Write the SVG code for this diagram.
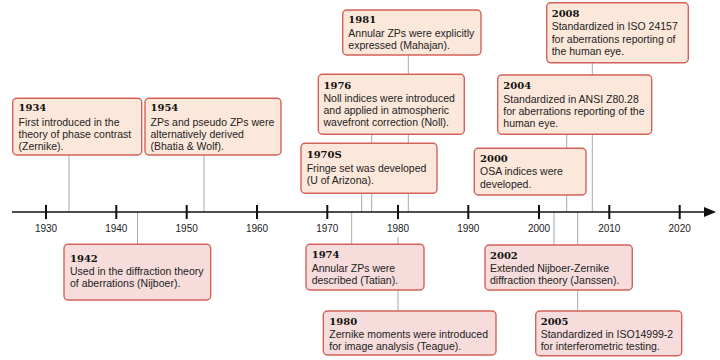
<svg xmlns="http://www.w3.org/2000/svg" width="720" height="360" viewBox="0 0 720 360">
<style>
.up rect{fill:#fce8da;stroke:#d4615a;stroke-width:1.4}
.dn rect{fill:#f6dcdb;stroke:#d4615a;stroke-width:1.4}
.yr{font-family:"DejaVu Serif","Liberation Serif",serif;font-weight:bold;font-size:10px;fill:#111}
.tx{font-family:"Liberation Sans",Arial,sans-serif;font-size:10.5px;fill:#222}
.conn line{stroke:#a8a8a8;stroke-width:1}
.axis line{stroke:#111;stroke-width:1.5}
.axis .tk{stroke-width:2}
.tl{font-family:"Liberation Sans",Arial,sans-serif;font-size:10px;fill:#222;text-anchor:middle}
</style>
<g id="connectors" class="conn">
<line x1="69" y1="155" x2="69" y2="212"/>
<line x1="204" y1="155" x2="204" y2="212"/>
<line x1="408.3" y1="55" x2="408.3" y2="212"/>
<line x1="371.7" y1="134.3" x2="371.7" y2="212"/>
<line x1="361.7" y1="193.3" x2="361.7" y2="212"/>
<line x1="592.3" y1="62.7" x2="592.3" y2="212"/>
<line x1="566.7" y1="134.3" x2="566.7" y2="212"/>
<line x1="137.5" y1="212" x2="137.5" y2="244.3"/>
<line x1="351.7" y1="212" x2="351.7" y2="244.3"/>
<line x1="398" y1="237" x2="398" y2="311"/>
<line x1="554" y1="212" x2="554" y2="245"/>
<line x1="577.7" y1="212" x2="577.7" y2="311"/>
</g>
<g id="axis" class="axis">
<line x1="12" y1="212" x2="706" y2="212"/>
<polygon points="704,207 716,212 704,217" fill="#111"/>
<line class="tk" x1="46" y1="205" x2="46" y2="219"/>
<line class="tk" x1="116.3" y1="205" x2="116.3" y2="219"/>
<line class="tk" x1="186.7" y1="205" x2="186.7" y2="219"/>
<line class="tk" x1="257" y1="205" x2="257" y2="219"/>
<line class="tk" x1="327.3" y1="205" x2="327.3" y2="219"/>
<line class="tk" x1="398" y1="205" x2="398" y2="219"/>
<line class="tk" x1="468.3" y1="205" x2="468.3" y2="219"/>
<line class="tk" x1="539" y1="205" x2="539" y2="219"/>
<line class="tk" x1="609.3" y1="205" x2="609.3" y2="219"/>
<line class="tk" x1="679.7" y1="205" x2="679.7" y2="219"/>
<text class="tl" x="46" y="232">1930</text>
<text class="tl" x="116.3" y="232">1940</text>
<text class="tl" x="186.7" y="232">1950</text>
<text class="tl" x="257" y="232">1960</text>
<text class="tl" x="327.3" y="232">1970</text>
<text class="tl" x="398" y="232">1980</text>
<text class="tl" x="468.3" y="232">1990</text>
<text class="tl" x="539" y="232">2000</text>
<text class="tl" x="609.3" y="232">2010</text>
<text class="tl" x="679.7" y="232">2020</text>
</g>
<g id="e1934" class="up">
<rect x="12.7" y="98.3" width="129" height="56.7" rx="4"/>
<text class="yr" x="18.5" y="111">1934</text>
<text class="tx" x="18.5" y="125.7">First introduced in the</text>
<text class="tx" x="18.5" y="137.6">theory of phase contrast</text>
<text class="tx" x="18.5" y="149.5">(Zernike).</text>
</g>
<g id="e1954" class="up">
<rect x="145" y="98.3" width="136" height="56.7" rx="4"/>
<text class="yr" x="150.5" y="111">1954</text>
<text class="tx" x="150.5" y="125.7">ZPs and pseudo ZPs were</text>
<text class="tx" x="150.5" y="137.6">alternatively derived</text>
<text class="tx" x="150.5" y="149.5">(Bhatia &amp; Wolf).</text>
</g>
<g id="e1981" class="up">
<rect x="342.7" y="10" width="138.3" height="45" rx="4"/>
<text class="yr" x="348.3" y="23.3">1981</text>
<text class="tx" x="348.3" y="36.7">Annular ZPs were explicitly</text>
<text class="tx" x="348.3" y="49">expressed (Mahajan).</text>
</g>
<g id="e1976" class="up">
<rect x="318.3" y="74.3" width="146" height="60" rx="4"/>
<text class="yr" x="323.5" y="88.5">1976</text>
<text class="tx" x="323.5" y="101.7">Noll indices were introduced</text>
<text class="tx" x="323.5" y="114">and applied in atmospheric</text>
<text class="tx" x="323.5" y="126.3">wavefront correction (Noll).</text>
</g>
<g id="e1970s" class="up">
<rect x="301" y="143.3" width="136" height="50" rx="4"/>
<text class="yr" x="306.7" y="158.3">1970S</text>
<text class="tx" x="306.7" y="171.7">Fringe set was developed</text>
<text class="tx" x="306.7" y="183.8">(U of Arizona).</text>
</g>
<g id="e2008" class="up">
<rect x="546.7" y="2.7" width="141.6" height="60" rx="4"/>
<text class="yr" x="551.7" y="17">2008</text>
<text class="tx" x="551.7" y="30.3">Standardized in ISO 24157</text>
<text class="tx" x="551.7" y="42.6">for aberrations reporting of</text>
<text class="tx" x="551.7" y="54.9">the human eye.</text>
</g>
<g id="e2004" class="up">
<rect x="497.7" y="75" width="154" height="59.3" rx="4"/>
<text class="yr" x="503.3" y="89.3">2004</text>
<text class="tx" x="503.3" y="102.6">Standardized in ANSI Z80.28</text>
<text class="tx" x="503.3" y="114.9">for aberrations reporting of the</text>
<text class="tx" x="503.3" y="127.2">human eye.</text>
</g>
<g id="e2000" class="up">
<rect x="474.3" y="148.3" width="111.7" height="46.7" rx="4"/>
<text class="yr" x="480" y="162">2000</text>
<text class="tx" x="480" y="175.3">OSA indices were</text>
<text class="tx" x="480" y="187.6">developed.</text>
</g>
<g id="e1942" class="dn">
<rect x="64" y="244.3" width="146.7" height="55.7" rx="4"/>
<text class="yr" x="70" y="261.5">1942</text>
<text class="tx" x="70" y="274.5">Used in the diffraction theory</text>
<text class="tx" x="70" y="286.8">of aberrations (Nijboer).</text>
</g>
<g id="e1974" class="dn">
<rect x="306" y="244.3" width="118" height="45.7" rx="4"/>
<text class="yr" x="311.7" y="257.8">1974</text>
<text class="tx" x="311.7" y="271.5">Annular ZPs were</text>
<text class="tx" x="311.7" y="283.8">described (Tatian).</text>
</g>
<g id="e1980" class="dn">
<rect x="323.3" y="311" width="172.7" height="44" rx="4"/>
<text class="yr" x="329.3" y="324.5">1980</text>
<text class="tx" x="329.3" y="337.8">Zernike moments were introduced</text>
<text class="tx" x="329.3" y="350.1">for image analysis (Teague).</text>
</g>
<g id="e2002" class="dn">
<rect x="485" y="245" width="147.3" height="45" rx="4"/>
<text class="yr" x="490" y="258.5">2002</text>
<text class="tx" x="490" y="271.8">Extended Nijboer-Zernike</text>
<text class="tx" x="490" y="284.1">diffraction theory (Janssen).</text>
</g>
<g id="e2005" class="dn">
<rect x="535.7" y="311" width="146" height="44.7" rx="4"/>
<text class="yr" x="540.7" y="324.5">2005</text>
<text class="tx" x="540.7" y="337.8">Standardized in ISO14999-2</text>
<text class="tx" x="540.7" y="350.1">for interferometric testing.</text>
</g>
</svg>
